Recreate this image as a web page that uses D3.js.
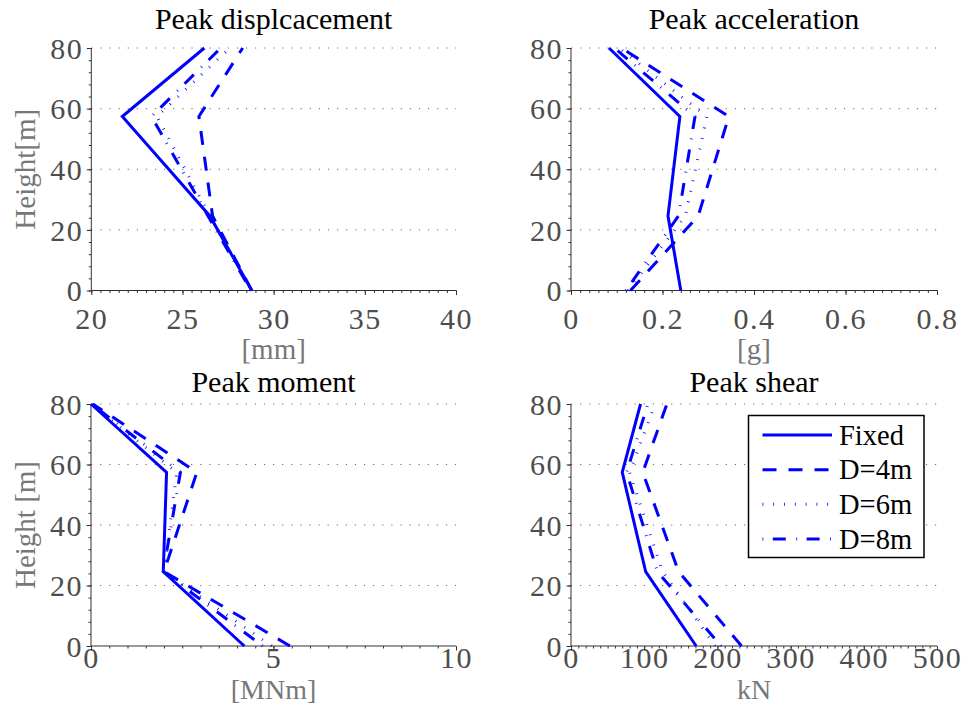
<!DOCTYPE html>
<html>
<head>
<meta charset="utf-8">
<script src="https://cdn.jsdelivr.net/npm/d3@7"></script>
<style>
  html, body { margin: 0; padding: 0; background: #fff; }
  svg { display: block; }
  svg text { font-family: "Liberation Serif", "DejaVu Serif", serif; }
</style>
</head>
<body>
<svg id="chart" width="961" height="723"></svg>
<script>
// Node heights along the tower [m]
const heights = [0, 24.6, 57.4, 80];

const seriesNames = ["Fixed", "D=4m", "D=6m", "D=8m"];

// Peak displacement [mm]
const dispFixed = [28.8, 26.5, 21.7, 26.2];
const dispD4    = [28.8, 26.65, 25.9, 28.3];
const dispD6    = [28.8, 26.5, 23.6, 27.6];
const dispD8    = [28.75, 26.4, 23.3, 27.1];

// Peak acceleration [g]
const accFixed = [0.240, 0.212, 0.238, 0.083];
const accD4    = [0.130, 0.278, 0.345, 0.110];
const accD6    = [0.125, 0.250, 0.297, 0.105];
const accD8    = [0.120, 0.235, 0.271, 0.095];

// Peak moment [MNm]
const momFixed = [4.20, 1.98, 2.07, 0.00];
const momD4    = [5.45, 2.00, 2.90, 0.05];
const momD6    = [4.95, 2.00, 2.35, 0.00];
const momD8    = [4.70, 1.98, 2.45, 0.02];

// Peak shear [kN]
const shearFixed = [171, 102, 70, 95];
const shearD4    = [233, 147, 98, 131];
const shearD6    = [197, 125, 80, 115];
const shearD8    = [205, 118, 76, 105];

// Tick labels
const yTicks = [0, 20, 40, 60, 80];
const dispTicks  = [20, 25, 30, 35, 40];
const accTicks   = [0, 0.2, 0.4, 0.6, 0.8];
const momTicks   = [0, 5, 10];
const shearTicks = [0, 100, 200, 300, 400, 500];

const lineStyles = [
  { width: 3,   dash: null },
  { width: 3,   dash: "14,12" },
  { width: 3,   dash: "0.8,10" },
  { width: 3,   dash: "0.8,9.5,13,10.5" }
];

const BLUE = "#0000ff";
const TICK_COLOR = "#4d4d4d";
const LABEL_COLOR = "#777777";
const AXIS_COLOR = "#333333";
const SERIF = "Liberation Serif, DejaVu Serif, serif";
const FONT_SIZE = 29;
const TICK_SIZE = 30;
const TITLE_SIZE = 30;
const fmt = d3.format("~g");

const svg = d3.select("#chart");

const panels = [
  { title: "Peak displcacement", xlabel: "[mm]", ylabel: "Height[m]",
    box: { l: 91.3, r: 456, t: 48, b: 290.5 }, domain: [20, 40], ticks: dispTicks,
    minor: 0.5, series: [dispFixed, dispD4, dispD6, dispD8],
    titleY: 29, tickDy: 38, xlabelY: 359, xlabelSize: 29 },
  { title: "Peak acceleration", xlabel: "[g]", ylabel: null,
    box: { l: 571, r: 937, t: 48, b: 290.5 }, domain: [0, 0.8], ticks: accTicks,
    minor: 0.02, series: [accFixed, accD4, accD6, accD8],
    titleY: 29, tickDy: 38, xlabelY: 359, xlabelSize: 29 },
  { title: "Peak moment", xlabel: "[MNm]", ylabel: "Height [m]",
    box: { l: 91, r: 456, t: 404, b: 646 }, domain: [0, 10], ticks: momTicks,
    minor: 0.5, series: [momFixed, momD4, momD6, momD8],
    titleY: 392, tickDy: 22, xlabelY: 699, xlabelSize: 28 },
  { title: "Peak shear", xlabel: "kN", ylabel: null,
    box: { l: 571, r: 937, t: 404, b: 646 }, domain: [0, 500], ticks: shearTicks,
    minor: 10, series: [shearFixed, shearD4, shearD6, shearD8],
    titleY: 392, tickDy: 22, xlabelY: 699, xlabelSize: 28 }
];

panels.forEach(p => {
  const { l, r, t, b } = p.box;
  const x = d3.scaleLinear().domain(p.domain).range([l, r]);
  const y = d3.scaleLinear().domain([0, 80]).range([b, t]);
  const g = svg.append("g");

  // dotted horizontal grid
  g.append("g").selectAll("line").data(yTicks.filter(v => v > 0)).join("line")
    .attr("x1", l).attr("x2", r)
    .attr("y1", d => y(d)).attr("y2", d => y(d))
    .attr("stroke", "#444").attr("stroke-opacity", 0.8)
    .attr("stroke-width", 1).attr("stroke-dasharray", "1.2,7.9");

  // minor ticks
  const xMinor = d3.range(p.domain[0], p.domain[1] + p.minor / 2, p.minor);
  const yMinor = d3.range(0, 80.001, 4);
  g.append("g").attr("transform", `translate(0,${b})`)
    .call(d3.axisBottom(x).tickValues(xMinor).tickSize(2.5).tickSizeOuter(0).tickFormat(""))
    .call(a => a.select(".domain").remove())
    .call(a => a.selectAll("line").attr("stroke", AXIS_COLOR));
  g.append("g").attr("transform", `translate(${l},0)`)
    .call(d3.axisLeft(y).tickValues(yMinor).tickSize(2.5).tickSizeOuter(0).tickFormat(""))
    .call(a => a.select(".domain").remove())
    .call(a => a.selectAll("line").attr("stroke", AXIS_COLOR));

  // major axes
  const xAxis = g.append("g").attr("transform", `translate(0,${b})`)
    .call(d3.axisBottom(x).tickValues(p.ticks).tickSize(4.5).tickSizeOuter(0).tickFormat(fmt))
    .attr("font-family", SERIF).attr("font-size", TICK_SIZE);
  xAxis.select(".domain").attr("stroke", AXIS_COLOR).attr("d", `M${l},0H${r}`);
  xAxis.selectAll("line").attr("stroke", AXIS_COLOR);
  xAxis.selectAll("text").attr("y", p.tickDy).attr("dy", null)
    .attr("fill", TICK_COLOR).style("letter-spacing", "1.5px");

  const yAxis = g.append("g").attr("transform", `translate(${l},0)`)
    .call(d3.axisLeft(y).tickValues(yTicks).tickSize(4.5).tickSizeOuter(0).tickFormat(fmt))
    .attr("font-family", SERIF).attr("font-size", TICK_SIZE);
  yAxis.select(".domain").attr("stroke", AXIS_COLOR).attr("d", `M0,${b}V${t}`);
  yAxis.selectAll("line").attr("stroke", AXIS_COLOR);
  yAxis.selectAll("text").attr("x", -8).attr("dy", "0.34em")
    .attr("fill", TICK_COLOR).style("letter-spacing", "1.5px");

  // title
  g.append("text").attr("x", (l + r) / 2).attr("y", p.titleY)
    .attr("text-anchor", "middle").attr("fill", "#000")
    .attr("font-family", SERIF).attr("font-size", TITLE_SIZE).text(p.title);

  // x label
  g.append("text").attr("x", (l + r) / 2).attr("y", p.xlabelY)
    .attr("text-anchor", "middle").attr("fill", LABEL_COLOR)
    .attr("font-family", SERIF).attr("font-size", p.xlabelSize).text(p.xlabel);

  // y label
  if (p.ylabel) {
    g.append("text")
      .attr("transform", `translate(35,${(t + b) / 2}) rotate(-90)`)
      .attr("text-anchor", "middle").attr("fill", LABEL_COLOR)
      .attr("font-family", SERIF).attr("font-size", FONT_SIZE).text(p.ylabel);
  }

  // profile lines
  const line = d3.line().x(d => x(d[0])).y(d => y(d[1]));
  p.series.forEach((vals, i) => {
    const pts = vals.map((v, k) => [v, heights[k]]);
    g.append("path").datum(pts)
      .attr("d", line)
      .attr("fill", "none")
      .attr("stroke", BLUE)
      .attr("stroke-width", lineStyles[i].width)
      .attr("stroke-dasharray", lineStyles[i].dash)
      .attr("stroke-linejoin", "miter");
  });
});

// Legend in the shear panel
const legend = svg.append("g");
legend.append("rect")
  .attr("x", 748.5).attr("y", 415.5).attr("width", 175.5).attr("height", 142)
  .attr("fill", "#fff").attr("stroke", "#000").attr("stroke-width", 1.5);
const legendY = d3.scalePoint().domain(seriesNames).range([435, 539]);
seriesNames.forEach((name, i) => {
  const yy = legendY(name);
  legend.append("line")
    .attr("x1", 762.5).attr("x2", 832).attr("y1", yy).attr("y2", yy)
    .attr("stroke", BLUE).attr("stroke-width", lineStyles[i].width)
    .attr("stroke-dasharray", lineStyles[i].dash);
  legend.append("text")
    .attr("x", 839).attr("y", yy).attr("dy", "0.34em")
    .attr("fill", "#000").attr("font-family", SERIF).attr("font-size", 28.5).text(name);
});
</script>
</body>
</html>
